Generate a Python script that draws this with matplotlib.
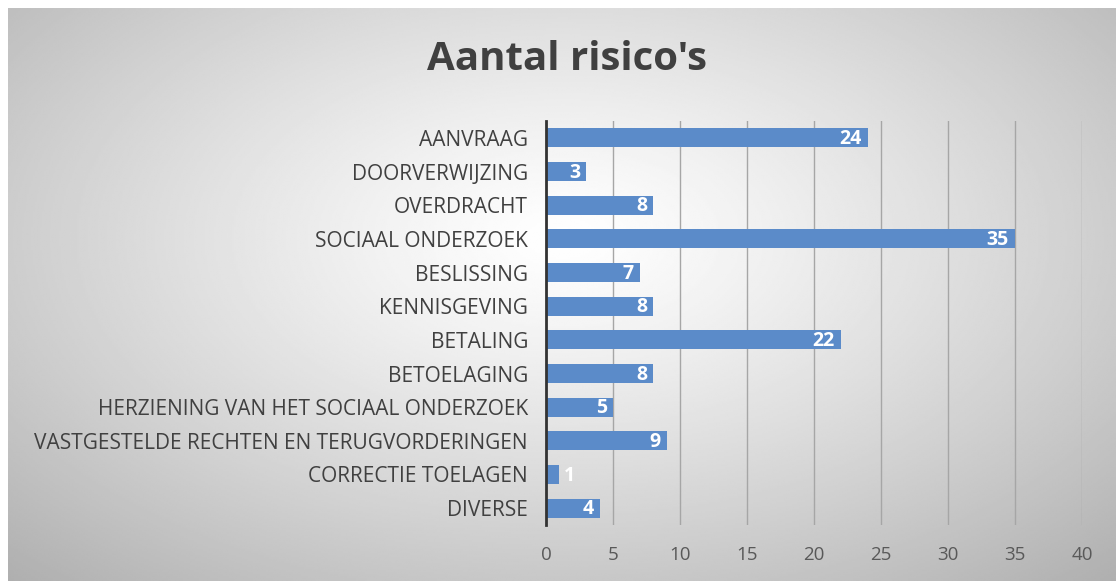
import numpy as np
import matplotlib
matplotlib.use("Agg")
import matplotlib.pyplot as plt

categories = ["AANVRAAG", "DOORVERWIJZING", "OVERDRACHT", "SOCIAAL ONDERZOEK",
              "BESLISSING", "KENNISGEVING", "BETALING", "BETOELAGING",
              "HERZIENING VAN HET SOCIAAL ONDERZOEK",
              "VASTGESTELDE RECHTEN EN TERUGVORDERINGEN",
              "CORRECTIE TOELAGEN", "DIVERSE"]
values = [24, 3, 8, 35, 7, 8, 22, 8, 5, 9, 1, 4]
x_ticks = [0, 5, 10, 15, 20, 25, 30, 35, 40]
title = "Aantal risico's"

W, H = 1116, 581
fig = plt.figure(figsize=(W / 100, H / 100), dpi=100)
fig.patch.set_facecolor("white")

# radial gradient background
bg = fig.add_axes([8 / W, 0, 1 - 8 / W, 1 - 8 / H], zorder=0)
yy, xx = np.mgrid[0:300, 0:600]
cx, cy = 300, 120
r = np.sqrt(((xx - cx) / 600) ** 2 + ((yy - cy) / 330) ** 2)
val = 1.0 - 0.32 * np.clip(r / 0.75, 0, 1) ** 1.2
bg.imshow(val, cmap="gray", vmin=0, vmax=1, aspect="auto", extent=[0, 1, 0, 1],
          origin="upper", interpolation="bilinear")
bg.set_axis_off()

font = "Open Sans"
ax = fig.add_axes([546 / W, 1 - 525 / H, (1082 - 546) / W, (525 - 121) / H], zorder=1)
ax.patch.set_alpha(0)
y = np.arange(len(categories))
ax.barh(y, values, height=0.57, color="#5b8bc9", zorder=3)
ax.set_ylim(len(categories) - 0.5, -0.5)
ax.set_xlim(0, 40)
ax.set_xticks(x_ticks)
ax.set_xticklabels([str(t) for t in x_ticks], fontsize=13.5, color="#595959", family=font)
ax.set_yticks(y)
ax.set_yticklabels(categories, fontsize=15, color="#404040", family=font)
ax.tick_params(axis="both", length=0)
ax.tick_params(axis="x", pad=15)
ax.tick_params(axis="y", pad=13)
ax.grid(axis="x", color="#a6a6a6", lw=1, zorder=1)
for s in ["top", "right", "bottom"]:
    ax.spines[s].set_visible(False)
ax.spines["left"].set_color("#333333")
ax.spines["left"].set_linewidth(2)
ax.spines["left"].set_zorder(4)

for yi, v in zip(y, values):
    if v >= 2:
        ax.text(v - 0.45, yi + 0.03, str(v), ha="right", va="center", color="white",
                fontsize=14, fontweight="bold", family=font, zorder=5)
    else:
        ax.text(v + 0.3, yi + 0.03, str(v), ha="left", va="center", color="white",
                fontsize=14, fontweight="bold", family=font, zorder=5)

fig.text(567 / W, 1 - 60 / H, title, ha="center", va="center", fontsize=29,
         fontweight="bold", color="#404040", family=font)

fig.savefig("out.png", dpi=100)
